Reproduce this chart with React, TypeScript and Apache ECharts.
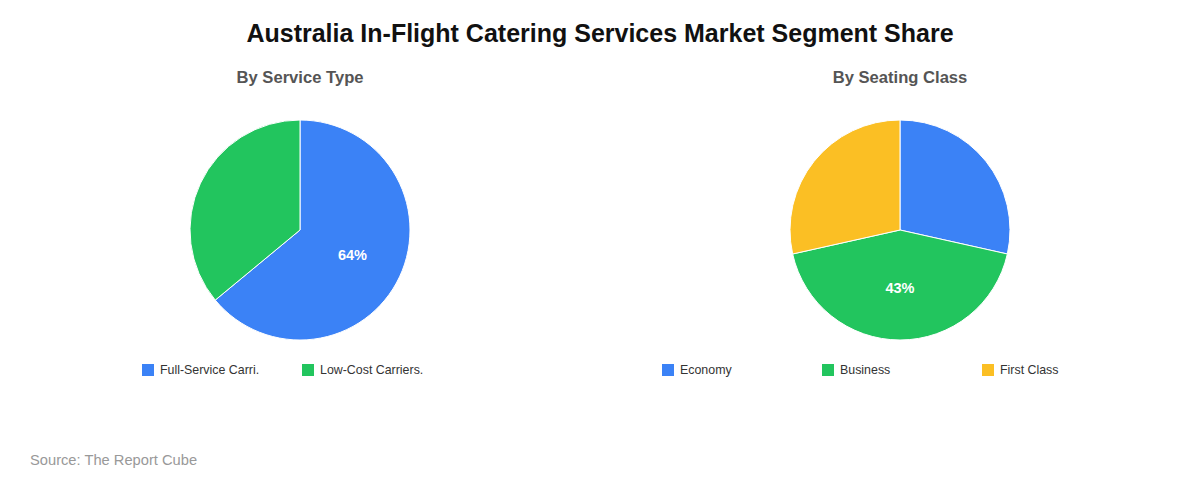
import React, { useEffect, useRef } from "react";
import * as echarts from "echarts";

const serviceCategories = ["Full-Service Carri.", "Low-Cost Carriers."];
const serviceValues = [64, 36];
const seatingCategories = ["Economy", "Business", "First Class"];
const seatingValues = [28.5, 43, 28.5];
const colors = ["#3b82f6", "#22c55e", "#fbbf24"];
const LABEL_MIN = 40;

const FONT = "'Liberation Sans', Arial, sans-serif";

function pieData(names: string[], values: number[]) {
  return names.map((n, i) => ({
    name: n,
    value: values[i],
    itemStyle: { color: colors[i] },
    label: { show: values[i] >= LABEL_MIN },
  }));
}

function legendsFor(names: string[], left: number) {
  return names.map((n, i) => ({
    data: [n],
    left: left + i * 160,
    top: 362,
    padding: 0,
    orient: "horizontal",
    itemWidth: 14,
    itemHeight: 14,
    icon: "rect",
    selectedMode: false,
    textStyle: {
      fontFamily: FONT,
      fontSize: 12.4,
      color: "#333",
    },
  }));
}

export default function App() {
  const ref = useRef<HTMLDivElement>(null);
  useEffect(() => {
    if (!ref.current) return;
    const chart = echarts.init(ref.current, undefined, { renderer: "svg" });
    const seriesBase = {
      type: "pie",
      radius: 110,
      startAngle: 90,
      clockwise: true,
      avoidLabelOverlap: false,
      itemStyle: { borderColor: "#fff", borderWidth: 1 },
      label: {
        position: "inner",
        formatter: "{d}%",
        color: "#fff",
        fontSize: 14.5,
        fontWeight: "bold",
        fontFamily: FONT,
      },
      labelLine: { show: false },
      emphasis: { disabled: true },
    };
    chart.setOption({
      animation: false,
      textStyle: { fontFamily: FONT },
      title: [
        {
          text: "Australia In-Flight Catering Services Market Segment Share",
          left: "center",
          top: 20,
          padding: 0,
          textStyle: { fontSize: 25, fontWeight: "bold", color: "#111", fontFamily: FONT },
        },
        {
          text: "By Service Type",
          left: 300,
          textAlign: "center",
          top: 69,
          padding: 0,
          textStyle: { fontSize: 16.6, fontWeight: "bold", color: "#555", fontFamily: FONT },
        },
        {
          text: "By Seating Class",
          left: 900,
          textAlign: "center",
          top: 69,
          padding: 0,
          textStyle: { fontSize: 16.6, fontWeight: "bold", color: "#555", fontFamily: FONT },
        },
        {
          text: "Source: The Report Cube",
          left: 30,
          top: 452,
          padding: 0,
          textStyle: { fontSize: 14.7, fontWeight: "normal", color: "#999", fontFamily: FONT },
        },
      ],
      legend: [...legendsFor(serviceCategories, 140), ...legendsFor(seatingCategories, 660)],
      series: [
        { ...seriesBase, name: "By Service Type", center: [300, 230], data: pieData(serviceCategories, serviceValues) },
        { ...seriesBase, name: "By Seating Class", center: [900, 230], data: pieData(seatingCategories, seatingValues) },
      ],
    });
    return () => chart.dispose();
  }, []);
  return <div ref={ref} style={{ width: 1200, height: 480, position: "absolute", left: 0, top: 0 }} />;
}
